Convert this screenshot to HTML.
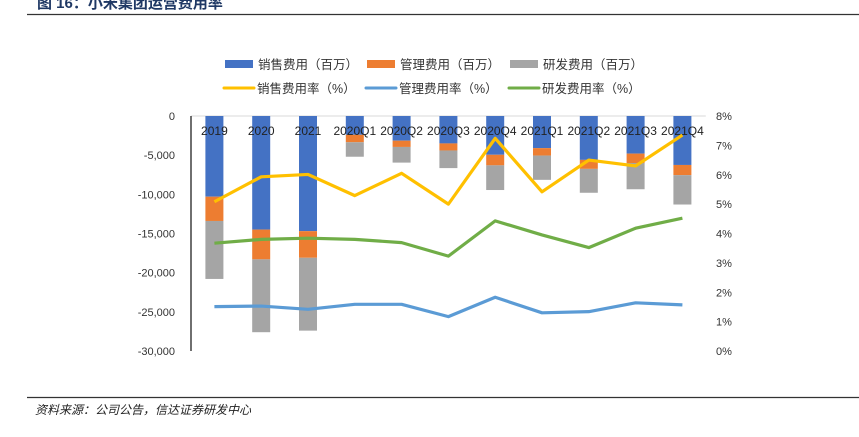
<!DOCTYPE html>
<html><head><meta charset="utf-8"><style>
body{margin:0;background:#fff;width:859px;height:432px;overflow:hidden;font-family:"Liberation Sans","Noto Sans CJK SC",sans-serif;}
svg text{font-family:"Liberation Sans","Noto Sans CJK SC",sans-serif;}
</style></head><body>
<svg width="859" height="432">
<text x="37" y="8" font-size="15" font-weight="bold" fill="#1f3864">图 16：小米集团运营费用率</text>
<line x1="27" y1="14.5" x2="859" y2="14.5" stroke="#333" stroke-width="1.2"/>
<g id="legend"></g>
<g id="plot"></g>
<line x1="27" y1="397.5" x2="859" y2="397.5" stroke="#333" stroke-width="1.2"/>
<text x="35" y="414" font-size="12" font-style="italic" fill="#222">资料来源：公司公告，信达证券研发中心</text>
</svg>
<script>
const categories=["2019","2020","2021","2020Q1","2020Q2","2020Q3","2020Q4","2021Q1","2021Q2","2021Q3","2021Q4"];
const salesExp=[10300,14500,14700,2400,3150,3500,4950,4100,5600,4800,6250];
const adminExp=[3100,3800,3400,950,800,900,1350,950,1150,1200,1300];
const rdExp=[7400,9300,9300,1850,2000,2250,3150,3100,3050,3350,3750];
const salesRate=[5.08,5.93,6.01,5.29,6.05,5.00,7.24,5.42,6.50,6.30,7.35];
const adminRate=[1.51,1.53,1.42,1.59,1.59,1.17,1.83,1.30,1.34,1.64,1.57];
const rdRate=[3.67,3.80,3.84,3.80,3.69,3.23,4.43,3.95,3.52,4.18,4.52];
const leftTicks=[0,-5000,-10000,-15000,-20000,-25000,-30000];
const leftTickLabels=["0","-5,000","-10,000","-15,000","-20,000","-25,000","-30,000"];
const rightTicks=[8,7,6,5,4,3,2,1,0];
const rightTickLabels=["8%","7%","6%","5%","4%","3%","2%","1%","0%"];

const NS="http://www.w3.org/2000/svg";
const plot=document.getElementById('plot');
const leg=document.getElementById('legend');
function mk(tag,attrs,parent){const e=document.createElementNS(NS,tag);for(const k in attrs)e.setAttribute(k,attrs[k]);parent.appendChild(e);return e;}
const top0=116,bot=351,left=191,step=46.8;
const yL=v=>top0+(-v)/30000*(bot-top0);
const yR=v=>bot-v/8*(bot-top0);
const xC=i=>left+step*(i+0.5);

let g=mk('line',{x1:left,y1:top0,x2:left+step*11,y2:top0,stroke:'#d9d9d9','stroke-width':1},plot);


leftTicks.forEach((t,i)=>{const e=mk('text',{x:175,y:yL(t)+4,'font-size':11,'text-anchor':'end',fill:'#333'},plot);e.textContent=leftTickLabels[i];

});
rightTicks.forEach((t,i)=>{const e=mk('text',{x:716,y:yR(t)+4,'font-size':11,fill:'#333'},plot);e.textContent=rightTickLabels[i];

});

const bw=18;
categories.forEach((c,i)=>{
 const x=xC(i)-bw/2;
 const s=-salesExp[i],a=s-adminExp[i],r=a-rdExp[i];
 let b=mk('rect',{x:x,y:yL(0),width:bw,height:yL(s)-yL(0),fill:'#4472c4'},plot);
 
 
 b=mk('rect',{x:x,y:yL(s),width:bw,height:yL(a)-yL(s),fill:'#ed7d31'},plot);
 
 
 b=mk('rect',{x:x,y:yL(a),width:bw,height:yL(r)-yL(a),fill:'#a5a5a5'},plot);
 
 
});
let ax=mk('line',{x1:left,y1:top0,x2:left,y2:bot,stroke:'#222','stroke-width':1.3},plot);


categories.forEach((c,i)=>{const e=mk('text',{x:xC(i),y:top0+19,'font-size':12,'text-anchor':'middle',fill:'#222'},plot);e.textContent=c;

});
[[salesRate,'#ffc000','line-sales-rate'],[adminRate,'#5b9bd5','line-admin-rate'],[rdRate,'#70ad47','line-rd-rate']].forEach(([d,col,n])=>{
 const p=mk('polyline',{points:d.map((v,i)=>xC(i)+','+yR(v)).join(' '),fill:'none',stroke:col,'stroke-width':3.2,'stroke-linejoin':'round'},plot);
 
 
});
const legItems=[[225,64,'rect','#4472c4','销售费用（百万）'],[367,64,'rect','#ed7d31','管理费用（百万）'],[510,64,'rect','#a5a5a5','研发费用（百万）'],
[224,88,'line','#ffc000','销售费用率（%）'],[366,88,'line','#5b9bd5','管理费用率（%）'],[509,88,'line','#70ad47','研发费用率（%）']];
legItems.forEach(([x,y,t,col,lab])=>{
 const gi=mk('g',{},leg);
 
 
 if(t==='rect')mk('rect',{x:x,y:y-4,width:28,height:8,fill:col},gi);
 else mk('line',{x1:x,y1:y,x2:x+30,y2:y,stroke:col,'stroke-width':3,'stroke-linecap':'round'},gi);
 const e=mk('text',{x:x+33,y:y+5,'font-size':12.5,fill:'#333'},gi);e.textContent=lab;
});
</script>
</body></html>
